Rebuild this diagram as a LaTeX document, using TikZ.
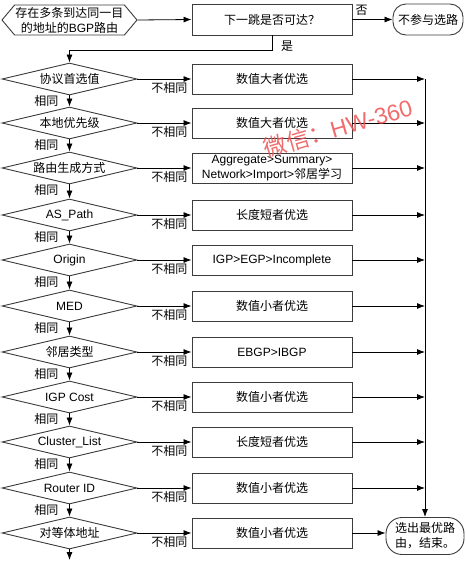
\documentclass[tikz,border=0pt]{standalone}
\usepackage{fontspec}
\setmainfont{Noto Sans CJK SC}
\newfontfamily\lat{Liberation Sans}
\usetikzlibrary{shapes,arrows.meta,positioning}
\definecolor{wmred}{RGB}{238,82,82}
\definecolor{edge}{RGB}{60,60,60}
\tikzstyle{base}=[draw=edge,line width=0.9pt,fill=white,inner sep=0pt,align=center,font=\fontsize{12}{15}\selectfont]
\tikzstyle{start}=[base,signal,signal to=east and west,signal pointer angle=100,minimum width=135pt,minimum height=30pt]
\tikzstyle{cond}=[base,diamond,aspect=4.2,minimum width=135pt,minimum height=32pt]
\tikzstyle{pref}=[base,rectangle,minimum width=160pt,minimum height=30pt]
\tikzstyle{term}=[base,rectangle,rounded corners=13pt]
\tikzstyle{arrow}=[draw,line width=0.8pt,-{Latex[length=8pt,width=6pt]}]
\tikzstyle{tag}=[inner sep=0pt,font=\fontsize{12}{15}\selectfont]
\tikzstyle{watermark}=[inner sep=0pt,text=wmred,text opacity=0.85,rotate=16,font=\fontsize{23}{25}\selectfont]

\begin{document}
\begin{tikzpicture}[x=1pt,y=-1pt]
  \useasboundingbox (0,0) rectangle (466,563);

  \node[start] at (69.5,20) (start) {存在多条到达同一目\\的地址的{\lat BGP}路由};
  \node[pref,minimum height=31pt] at (272,19.5) (check) {下一跳是否可达？};
  \node[term,minimum width=70pt,minimum height=31pt] at (428,19.5) (skip) {不参与选路};
  \draw[arrow] (start.east) -- (check.west);
  \draw[arrow] (check.east) -- (skip.west);
  \node[tag,above right=4pt and 3pt of check.east] (no) {否};

  \node[cond] at (69.5,79) (c1) {协议首选值};
  \node[cond] at (69.5,123) (c2) {本地优先级};
  \node[cond] at (69.5,168) (c3) {路由生成方式};
  \node[cond] at (69.5,215) (c4) {\lat AS\_Path};
  \node[cond] at (69.5,260) (c5) {\lat Origin};
  \node[cond] at (69.5,306) (c6) {\lat MED};
  \node[cond] at (69.5,352) (c7) {邻居类型};
  \node[cond] at (69.5,397) (c8) {\lat IGP Cost};
  \node[cond] at (69.5,442) (c9) {\lat Cluster\_List};
  \node[cond] at (69.5,488) (c10) {\lat Router ID};
  \node[cond] at (69.5,533) (c11) {对等体地址};

  \draw[arrow] (check.south) -- ++(0,15) -| (c1.north);
  \node[tag] at (287,46) (yes) {是};

  \node[pref] at (272,79) (p1) {数值大者优选};
  \node[pref] at (272,123) (p2) {数值大者优选};
  \node[pref] at (272,168) (p3) {{\lat Aggregate>Summary>}\\{\lat Network>Import>}邻居学习};
  \node[pref] at (272,215) (p4) {长度短者优选};
  \node[pref] at (272,260) (p5) {\lat IGP>EGP>Incomplete};
  \node[pref] at (272,306) (p6) {数值小者优选};
  \node[pref] at (272,352) (p7) {\lat EBGP>IBGP};
  \node[pref] at (272,397) (p8) {数值小者优选};
  \node[pref] at (272,442) (p9) {长度短者优选};
  \node[pref] at (272,488) (p10) {数值小者优选};
  \node[pref] at (272,533) (p11) {数值小者优选};

  \node[term,minimum width=78pt,minimum height=37pt,rounded corners=16pt] at (425,536) (done) {选出最优路\\由，结束。};

  \draw[arrow] (c1.south) -- (c2.north);
  \draw[arrow] (c2.south) -- (c3.north);
  \draw[arrow] (c3.south) -- (c4.north);
  \draw[arrow] (c4.south) -- (c5.north);
  \draw[arrow] (c5.south) -- (c6.north);
  \draw[arrow] (c6.south) -- (c7.north);
  \draw[arrow] (c7.south) -- (c8.north);
  \draw[arrow] (c8.south) -- (c9.north);
  \draw[arrow] (c9.south) -- (c10.north);
  \draw[arrow] (c10.south) -- (c11.north);
  \coordinate (exit) at (c11.south |- 0,560);
  \draw[arrow] (c11.south) -- (exit);

  \node[tag,below left=0pt and 11pt of c1.south] (s1) {相同};
  \node[tag,below left=0pt and 11pt of c2.south] (s2) {相同};
  \node[tag,below left=0pt and 11pt of c3.south] (s3) {相同};
  \node[tag,below left=0pt and 11pt of c4.south] (s4) {相同};
  \node[tag,below left=0pt and 11pt of c5.south] (s5) {相同};
  \node[tag,below left=0pt and 11pt of c6.south] (s6) {相同};
  \node[tag,below left=0pt and 11pt of c7.south] (s7) {相同};
  \node[tag,below left=0pt and 11pt of c8.south] (s8) {相同};
  \node[tag,below left=0pt and 11pt of c9.south] (s9) {相同};
  \node[tag,below left=0pt and 11pt of c10.south] (s10) {相同};

  \draw[arrow] (c1.east) -- (p1.west);
  \draw[arrow] (c2.east) -- (p2.west);
  \draw[arrow] (c3.east) -- (p3.west);
  \draw[arrow] (c4.east) -- (p4.west);
  \draw[arrow] (c5.east) -- (p5.west);
  \draw[arrow] (c6.east) -- (p6.west);
  \draw[arrow] (c7.east) -- (p7.west);
  \draw[arrow] (c8.east) -- (p8.west);
  \draw[arrow] (c9.east) -- (p9.west);
  \draw[arrow] (c10.east) -- (p10.west);
  \draw[arrow] (c11.east) -- (p11.west);

  \node[tag,below left=3pt and 4pt of p1.west] (d1) {不相同};
  \node[tag,below left=3pt and 4pt of p2.west] (d2) {不相同};
  \node[tag,below left=3pt and 4pt of p3.west] (d3) {不相同};
  \node[tag,below left=3pt and 4pt of p4.west] (d4) {不相同};
  \node[tag,below left=3pt and 4pt of p5.west] (d5) {不相同};
  \node[tag,below left=3pt and 4pt of p6.west] (d6) {不相同};
  \node[tag,below left=3pt and 4pt of p7.west] (d7) {不相同};
  \node[tag,below left=3pt and 4pt of p8.west] (d8) {不相同};
  \node[tag,below left=3pt and 4pt of p9.west] (d9) {不相同};
  \node[tag,below left=3pt and 4pt of p10.west] (d10) {不相同};
  \node[tag,below left=3pt and 4pt of p11.west] (d11) {不相同};

  \draw[arrow] (p1.east -| done.north) -- (done.north);
  \draw[arrow] (p1.east) -- (p1.east -| done.north);
  \draw[arrow] (p2.east) -- (p2.east -| done.north);
  \draw[arrow] (p3.east) -- (p3.east -| done.north);
  \draw[arrow] (p4.east) -- (p4.east -| done.north);
  \draw[arrow] (p5.east) -- (p5.east -| done.north);
  \draw[arrow] (p6.east) -- (p6.east -| done.north);
  \draw[arrow] (p7.east) -- (p7.east -| done.north);
  \draw[arrow] (p8.east) -- (p8.east -| done.north);
  \draw[arrow] (p9.east) -- (p9.east -| done.north);
  \draw[arrow] (p10.east) -- (p10.east -| done.north);
  \draw[arrow] (p11.east) -- (p11.east -| done.west);

  \node[watermark] at (338,128) (wm) {微信：{\lat HW-360}};
\end{tikzpicture}
\end{document}
